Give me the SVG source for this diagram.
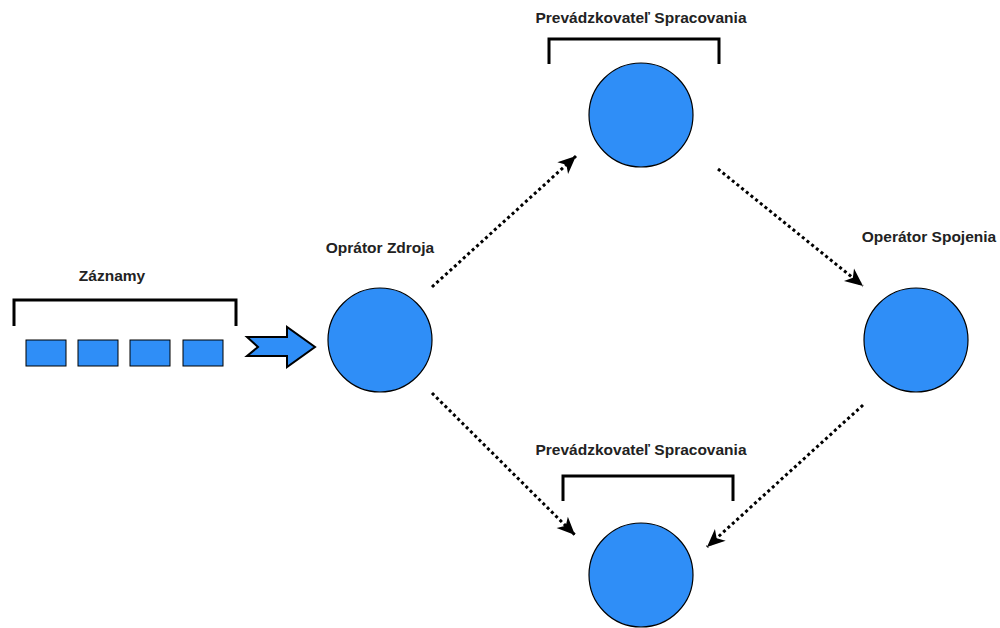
<svg xmlns="http://www.w3.org/2000/svg" width="1000" height="628" viewBox="0 0 1000 628">
  <style>
    .lbl { font-family: "Liberation Sans", Arial, sans-serif; font-size: 15.5px; font-weight: bold; fill: #222; text-anchor: middle; }
    .op { fill: #2F8EF7; stroke: #000; stroke-width: 1.2; }
    .rec { fill: #2F8EF7; stroke: #000; stroke-width: 1; }
    .brk { fill: none; stroke: #000; stroke-width: 3; }
    .flow { fill: none; stroke: #000; stroke-width: 3; stroke-dasharray: 3 3; }
  </style>
  <defs>
    <marker id="head" markerUnits="userSpaceOnUse" viewBox="-1 -10 21 20" markerWidth="21" markerHeight="20" refX="18" refY="0" orient="auto">
      <path d="M0,-8 L18,0 L0,8 L5,0 Z" fill="#000"/>
    </marker>
  </defs>
  <rect width="1000" height="628" fill="#fff"/>

  <!-- record queue -->
  <g id="records">
    <text class="lbl" x="112" y="281">Záznamy</text>
    <path class="brk" d="M14,326 V300 H236 V326"/>
    <rect class="rec" x="26" y="340" width="40" height="26"/>
    <rect class="rec" x="78" y="340" width="40" height="26"/>
    <rect class="rec" x="130" y="340" width="40" height="26"/>
    <rect class="rec" x="183" y="340" width="40" height="26"/>
  </g>

  <!-- block arrow feeding the source -->
  <g id="feed">
    <path d="M247,337 L287,337 L287,327 L315,347 L287,367 L287,356 L247,356 L258,347 Z" fill="#2F8EF7" stroke="#000" stroke-width="2" stroke-linejoin="miter"/>
  </g>

  <g id="source">
    <text class="lbl" x="380" y="253">Oprátor Zdroja</text>
    <circle class="op" cx="380" cy="340" r="52"/>
  </g>

  <g id="process-top">
    <text class="lbl" x="641" y="23">Prevádzkovateľ Spracovania</text>
    <path class="brk" d="M549,64 V39 H719 V64"/>
    <circle class="op" cx="641" cy="115" r="52"/>
  </g>

  <g id="join">
    <text class="lbl" x="929" y="242">Operátor Spojenia</text>
    <circle class="op" cx="916" cy="340" r="52"/>
  </g>

  <g id="process-bottom">
    <text class="lbl" x="641" y="455">Prevádzkovateľ Spracovania</text>
    <path class="brk" d="M563,501 V476 H733 V501"/>
    <circle class="op" cx="641" cy="575" r="52"/>
  </g>

  <g id="connectors">
    <line class="flow" x1="432" y1="287" x2="576" y2="156" marker-end="url(#head)"/>
    <line class="flow" x1="718" y1="169" x2="863" y2="286" marker-end="url(#head)"/>
    <line class="flow" x1="432" y1="393" x2="575" y2="535" marker-end="url(#head)"/>
    <line class="flow" x1="863" y1="405" x2="707" y2="547" marker-end="url(#head)"/>
  </g>
</svg>
